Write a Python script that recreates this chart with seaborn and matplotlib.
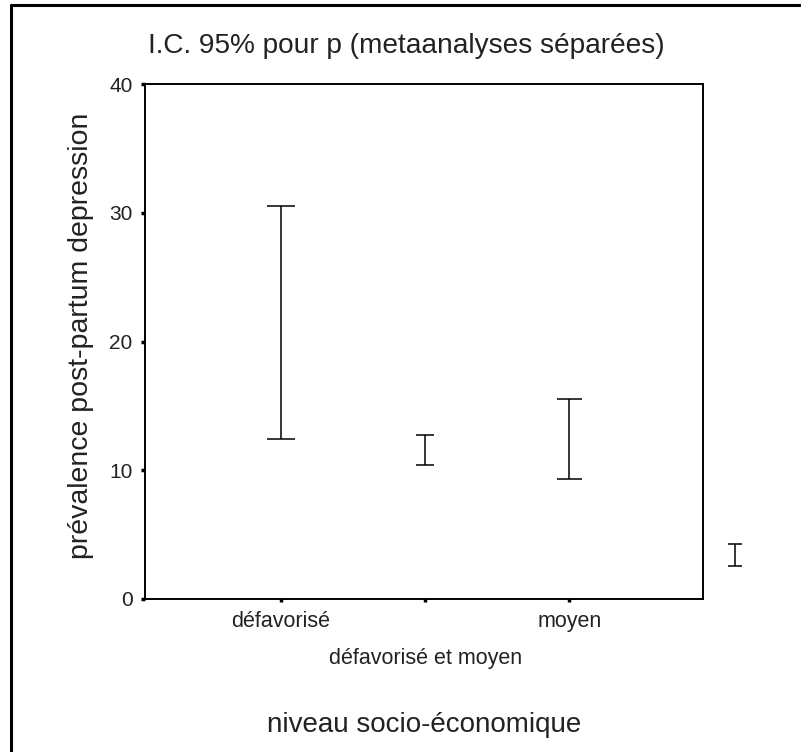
import matplotlib
matplotlib.use("Agg")
import matplotlib.pyplot as plt
from matplotlib.lines import Line2D
import seaborn as sns
import numpy as np

# ---- data ----
categories = ["défavorisé", "défavorisé et moyen", "moyen", ""]
ci_low = [12.4, 10.4, 9.3, 2.6]
ci_high = [30.5, 12.7, 15.5, 4.3]
y_ticks = [0, 10, 20, 30, 40]
title = "I.C. 95% pour p (metaanalyses séparées)"
ylabel = "prévalence post-partum depression"
xlabel = "niveau socio-économique"

# ---- style ----
sns.set_theme(style="white")
plt.rcParams["font.family"] = ["Liberation Sans", "DejaVu Sans"]

x_pos = [0, 1, 2, 3.15]          # last interval sits outside the frame in the original
cap_sizes = [10.0, 6.8, 9.0, 4.7]  # cap half-lengths in points

fig = plt.figure(figsize=(8.01, 7.52), dpi=100)
ax = fig.add_axes([145 / 801, 1 - 599 / 752, 558 / 801, 515 / 752])

center = (np.array(ci_low) + np.array(ci_high)) / 2
half = (np.array(ci_high) - np.array(ci_low)) / 2
for xp, c, h, cs in zip(x_pos, center, half, cap_sizes):
    eb = ax.errorbar([xp], [c], yerr=[h], fmt="none", ecolor="black",
                     elinewidth=1.1, capsize=cs, capthick=1.1, clip_on=False)
    for art in eb.lines[1] + eb.lines[2]:
        art.set_clip_on(False)

ax.set_xlim(-0.943, 2.928)
ax.set_ylim(0, 40)
ax.set_xticks(x_pos[:3])
ax.set_xticklabels(categories[:3], fontsize=15.5)
ax.set_yticks(y_ticks)
ax.set_yticklabels([str(t) for t in y_ticks], fontsize=15)

for s in ax.spines.values():
    s.set_color("black")
    s.set_linewidth(1.4)

ax.tick_params(axis="y", direction="out", length=3, width=2.5, color="black",
               pad=6, left=True, labelcolor="#222222")
ax.tick_params(axis="x", direction="out", length=2.5, width=2.5, color="black",
               pad=6, bottom=True, labelcolor="#222222")
ticks = ax.xaxis.get_major_ticks()
ticks[1].set_pad(33)

ax.set_ylabel(ylabel, fontsize=20.5, color="#222222")
ax.yaxis.set_label_coords(-0.092, 0.511)

fig.text(406 / 801, 1 - 53 / 752, title, fontsize=20.2, ha="center",
         va="baseline", color="#222222")
fig.text(424 / 801, 1 - 732 / 752, xlabel, fontsize=20, ha="center",
         va="baseline", color="#222222")

# outer frame (right and bottom edges fall outside the image)
fig.add_artist(Line2D([10.5 / 801, 10.5 / 801], [0, 1 - 4.5 / 752],
                      transform=fig.transFigure, color="black", lw=2.2))
fig.add_artist(Line2D([10.5 / 801, 1], [1 - 4.5 / 752, 1 - 4.5 / 752],
                      transform=fig.transFigure, color="black", lw=2.2))

fig.savefig("out.png", dpi=100, facecolor="white")
